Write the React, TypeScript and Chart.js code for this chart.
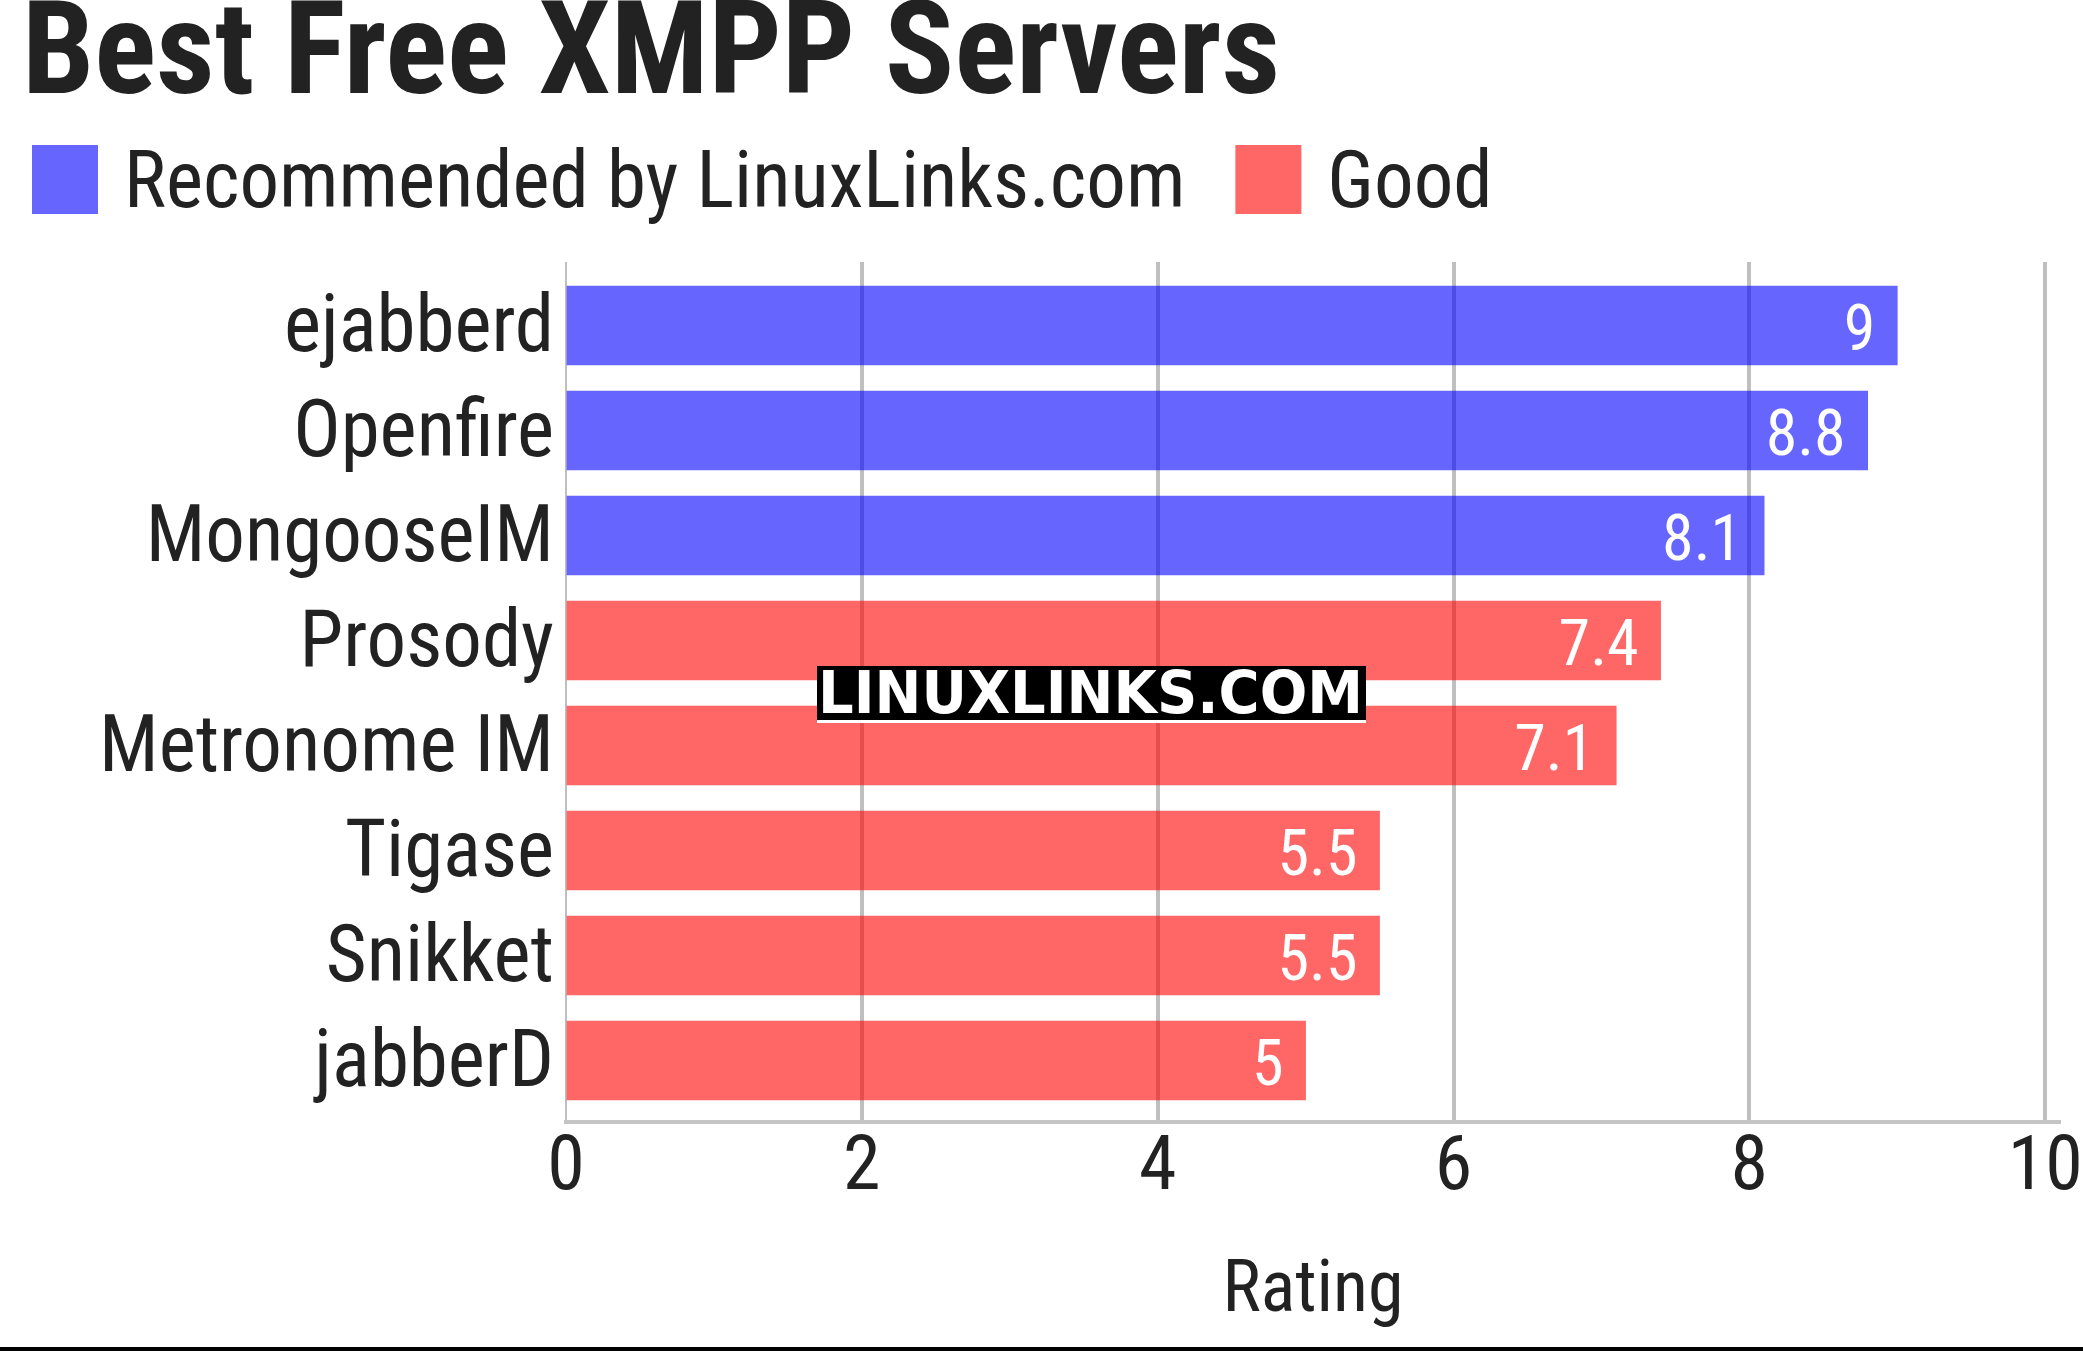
import React, { useEffect, useRef } from "react";
import { Chart, registerables } from "chart.js";

Chart.register(...registerables);

const TITLE = "Best Free XMPP Servers";
const categories = [
  "ejabberd",
  "Openfire",
  "MongooseIM",
  "Prosody",
  "Metronome IM",
  "Tigase",
  "Snikket",
  "jabberD",
];
const recommendedValues: (number | null)[] = [9, 8.8, 8.1, null, null, null, null, null];
const goodValues: (number | null)[] = [null, null, null, 7.4, 7.1, 5.5, 5.5, 5];
const seriesLabels = ["Recommended by LinuxLinks.com", "Good"];
const xTicksStep = 2;
const xAxisTitle = "Rating";
const watermark = "LINUXLINKS.COM";

const FONT = "'Roboto Condensed', 'Liberation Sans Narrow', Roboto, sans-serif";
const TEXT = "#222222";
const BLUE = "rgba(0, 0, 255, 0.6)";
const RED = "rgba(255, 0, 0, 0.6)";

const toPoints = (vals: (number | null)[]) =>
  vals
    .map((v, i) => (v == null ? null : { x: v, y: i }))
    .filter((p) => p !== null) as { x: number; y: number }[];

const legendPlugin = {
  id: "customLegend",
  afterDraw(chart: any) {
    const ctx = chart.ctx;
    ctx.save();
    ctx.font = `79px ${FONT}`;
    ctx.textBaseline = "alphabetic";
    ctx.textAlign = "left";
    let x = 32;
    chart.data.datasets.forEach((ds: any) => {
      ctx.fillStyle = ds.backgroundColor;
      ctx.fillRect(x, 145, 66, 69);
      const tx = x + 92;
      ctx.fillStyle = TEXT;
      ctx.fillText(ds.label, tx, 207);
      x = tx + ctx.measureText(ds.label).width + 50;
    });
    ctx.restore();
  },
};

const valueLabelPlugin = {
  id: "valueLabels",
  afterDatasetsDraw(chart: any) {
    const ctx = chart.ctx;
    ctx.save();
    ctx.font = `64px ${FONT}`;
    ctx.fillStyle = "#ffffff";
    ctx.textAlign = "right";
    ctx.textBaseline = "middle";
    chart.data.datasets.forEach((ds: any, di: number) => {
      const meta = chart.getDatasetMeta(di);
      meta.data.forEach((bar: any, i: number) => {
        const v = ds.data[i].x;
        ctx.fillText(String(v), bar.x - 22, bar.y + 8);
      });
    });
    ctx.restore();
  },
};

const watermarkPlugin = {
  id: "watermark",
  afterDraw(chart: any) {
    const ctx = chart.ctx;
    ctx.save();
    ctx.fillStyle = "#ffffff";
    ctx.fillRect(817, 666, 549, 57);
    ctx.fillStyle = "#000000";
    ctx.fillRect(817, 666, 549, 54);
    ctx.fillStyle = "#ffffff";
    ctx.font = "bold 59px 'DejaVu Sans', sans-serif";
    ctx.textAlign = "left";
    ctx.textBaseline = "alphabetic";
    ctx.fillText(watermark, 818, 713, 545);
    // bottom frame line
    ctx.fillStyle = "#000000";
    ctx.fillRect(0, 1347, chart.width, 4);
    ctx.restore();
  },
};

export default function App() {
  const ref = useRef<HTMLCanvasElement | null>(null);

  useEffect(() => {
    document.body.style.margin = "0";
    const canvas = ref.current;
    if (!canvas) return;
    const chart = new Chart(canvas, {
      type: "bar",
      data: {
        datasets: [
          {
            label: seriesLabels[0],
            data: toPoints(recommendedValues),
            backgroundColor: BLUE,
            barThickness: 79,
            grouped: false,
            borderWidth: 0,
          } as any,
          {
            label: seriesLabels[1],
            data: toPoints(goodValues),
            backgroundColor: RED,
            barThickness: 79,
            grouped: false,
            borderWidth: 0,
          } as any,
        ],
      },
      options: {
        indexAxis: "y",
        responsive: false,
        animation: false,
        devicePixelRatio: 1,
        layout: { padding: { left: 22, right: 23, top: 0, bottom: 0 } },
        plugins: {
          legend: { display: false },
          tooltip: { enabled: false },
          title: {
            display: true,
            text: TITLE,
            align: "start",
            color: TEXT,
            font: { family: FONT, size: 129, weight: "bold", lineHeight: 0.8 },
            padding: { top: 9.4, bottom: 149.4 },
          },
        },
        scales: {
          x: {
            type: "linear",
            min: 0,
            max: 10.1,
            afterFit: (s: any) => {
              s.paddingLeft = 0;
              s.paddingRight = 0;
              s.height = 229;
            },
            ticks: {
              stepSize: xTicksStep,
              includeBounds: false,
              color: TEXT,
              font: { family: FONT, size: 76 },
              padding: 2,
            },
            grid: {
              color: "rgba(0,0,0,0.25)",
              lineWidth: (c: any) => (c.index === 0 ? 2 : 4),
              drawTicks: false,
            },
            border: { display: true, color: "rgba(0,0,0,0.23)", width: 4 },
            title: {
              display: true,
              text: xAxisTitle,
              color: TEXT,
              font: { family: FONT, size: 72 },
              padding: { top: 35.6, bottom: 15.3 },
            },
          },
          y: {
            type: "linear",
            reverse: true,
            offset: false,
            min: -0.6048,
            max: 7.5857,
            afterBuildTicks: (s: any) => {
              s.ticks = categories.map((_, i) => ({ value: i }));
            },
            afterFit: (s: any) => {
              s.width = 544;
            },
            grid: { display: false, drawTicks: false, offset: false },
            border: { display: false },
            ticks: {
              autoSkip: false,
              color: TEXT,
              font: { family: FONT, size: 79 },
              padding: 12,
              labelOffset: 6,
              callback: (v: any) => categories[v as number] ?? "",
            },
          },
        },
      },
      plugins: [valueLabelPlugin, legendPlugin, watermarkPlugin],
    });
    return () => chart.destroy();
  }, []);

  return (
    <div style={{ width: 2083, height: 1351, background: "#fff" }}>
      <canvas ref={ref} width={2083} height={1351} style={{ display: "block" }} />
    </div>
  );
}
